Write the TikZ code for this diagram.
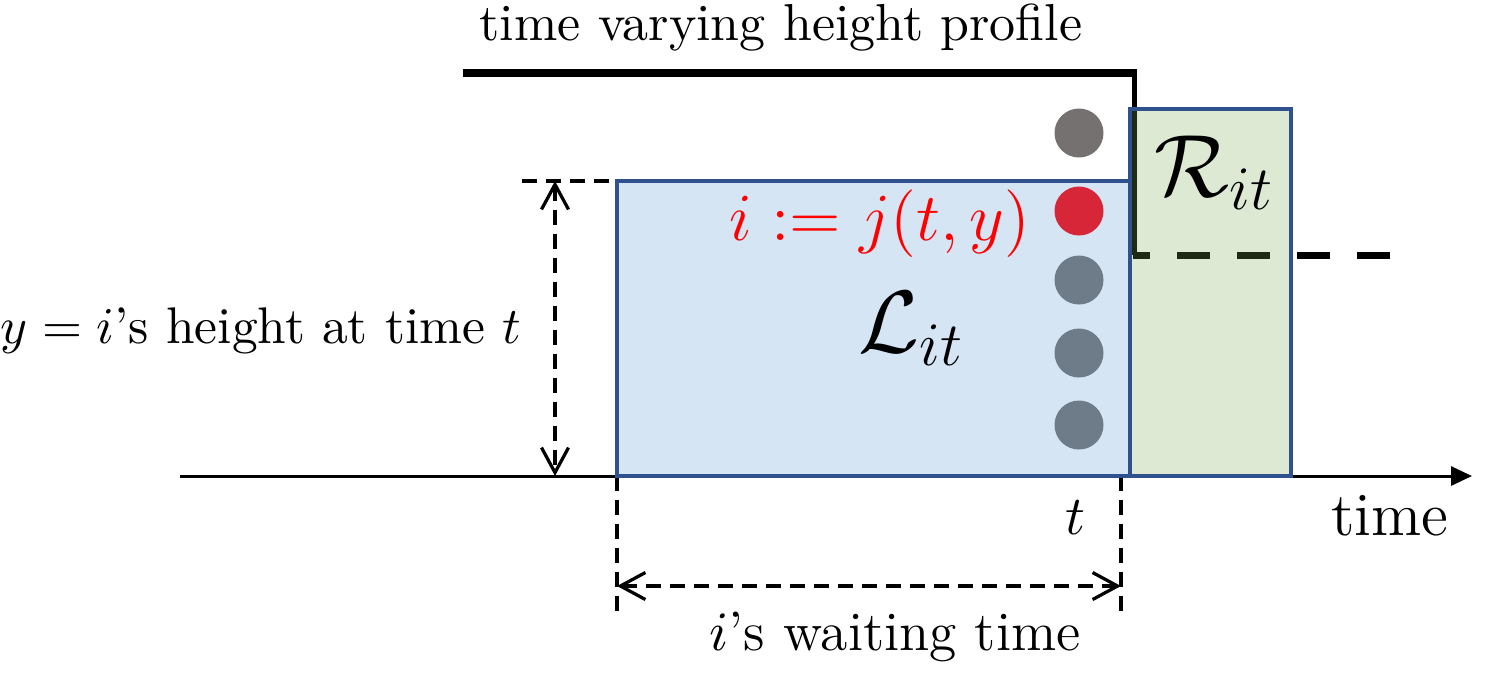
\RequirePackage{fix-cm}
\documentclass[tikz,border=0pt]{standalone}
\usetikzlibrary{arrows.meta}
\definecolor{boxblue}{HTML}{2F528F}
\definecolor{fillblue}{HTML}{D6E5F4}
\definecolor{greenbase}{RGB}{120,168,80}
\definecolor{dotgray}{HTML}{767171}
\definecolor{dotred}{HTML}{D62637}
\definecolor{dotslate}{HTML}{6E7C8A}
\begin{document}
\begin{tikzpicture}[x=0.2pt,y=-0.2pt,
  lbl/.style={inner sep=0pt, anchor=base},
  dimline/.style={dash pattern=on 3pt off 1.8pt, line width=0.65pt},
  barb/.tip={Straight Barb[length=5pt,width=5.4pt]},
  dimarrow/.style={dimline, barb-barb},
  dotnode/.style={circle, inner sep=0pt, minimum size=9.8pt},
  boxline/.style={draw=boxblue, line width=0.7pt}]
\useasboundingbox (0,0) rectangle (1495,672);
% coordinates
\coordinate (ax0) at (180,476);
\coordinate (ax1) at (1472,476);
\coordinate (Lsw) at (617,476);
\coordinate (Lne) at (1130,181);
\coordinate (Lnw) at (617,181);
\coordinate (Rsw) at (1130,476);
\coordinate (Rne) at (1291,109);
\coordinate (p0) at (463,73);
\coordinate (p1) at (1137,73);
\coordinate (p1v) at (1134,73);
\coordinate (p2) at (1134,255);
\coordinate (p3) at (1390,255);
\coordinate (p2d) at (1133,255);
\coordinate (hd0) at (522,181);
\coordinate (ya0) at (555,181);
\coordinate (ya1) at (555,476);
\coordinate (wl0) at (617,476);
\coordinate (wl1) at (617,611);
\coordinate (wr0) at (1121,476);
\coordinate (wr1) at (1121,611);
\coordinate (wa0) at (617,586);
\coordinate (wa1) at (1121,586);
% axis
\draw[line width=0.6pt, -{Triangle[length=4.2pt,width=3.8pt]}] (ax0) -- (ax1);
% dimension lines
\draw[dimline] (hd0) -- (Lnw);
\draw[dimarrow] (ya0) -- (ya1);
\draw[dimline] (wl0) -- (wl1);
\draw[dimline] (wr0) -- (wr1);
\draw[dimarrow] (wa0) -- (wa1);
% blue box
\draw[boxline, fill=fillblue] (Lsw) rectangle (Lne);
% height profile
\draw[line width=1.6pt] (p0) -- (p1);
\draw[line width=1pt] (p1v) -- (p2);
\draw[line width=1.4pt, dash pattern=on 6.6pt off 5.4pt] (p3) -- (p2d);
% green box (semi-transparent over profile)
\fill[greenbase, fill opacity=0.25] (Rsw) rectangle (Rne);
\draw[boxline] (Rsw) rectangle (Rne);
% dots
\node[dotnode, fill=dotgray] (d1) at (1079,133) {};
\node[dotnode, fill=dotred] (d2) at (1079,211) {};
\node[dotnode, fill=dotslate] (d3) at (1079,280) {};
\node[dotnode, fill=dotslate] (d4) at (1079,353) {};
\node[dotnode, fill=dotslate] (d5) at (1079,425) {};
% labels
\node[lbl, font=\fontsize{10.4}{12}\selectfont] (title) at (781,40) {time varying height profile};
\node[lbl, font=\fontsize{10.3}{12}\selectfont] (ylab) at (261,343) {$y = i$'s height at time $t$};
\node[lbl, text=red, font=\fontsize{13.5}{16}\selectfont] (ilab) at (880,240) {$i := j(t,y)$};
\node[lbl, font=\fontsize{17.7}{20}\selectfont] (Llab) at (912,352) {$\mathcal{L}_{it}$};
\node[lbl, font=\fontsize{17.7}{20}\selectfont] (Rlab) at (1215,196) {$\mathcal{R}_{it}$};
\node[lbl, font=\fontsize{11}{13}\selectfont] (tlab) at (1075,534) {$t$};
\node[lbl, font=\fontsize{12.3}{14}\selectfont] (timelab) at (1390,535) {time};
\node[lbl, font=\fontsize{11.1}{13}\selectfont] (wlab) at (895,650) {$i$'s waiting time};
\end{tikzpicture}
\end{document}
